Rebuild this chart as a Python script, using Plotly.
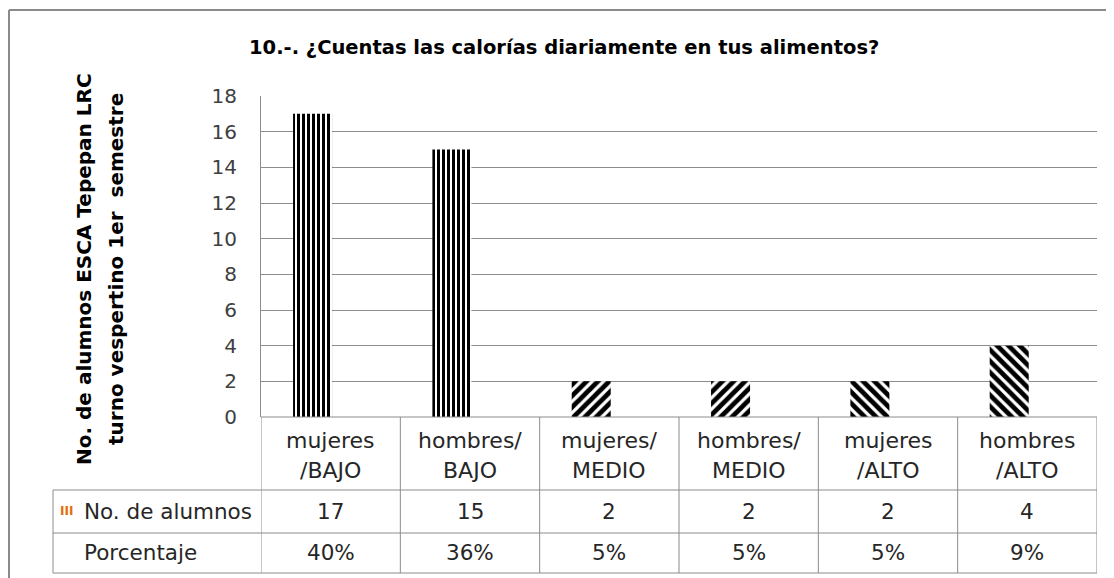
import plotly.graph_objects as go

# data
categories = ["mujeres<br>/BAJO", "hombres/<br>BAJO", "mujeres/<br>MEDIO",
              "hombres/<br>MEDIO", "mujeres<br>/ALTO", "hombres<br>/ALTO"]
alumnos = [17, 15, 2, 2, 2, 4]
porcentaje = ["40%", "36%", "5%", "5%", "5%", "9%"]
patterns = ["|", "|", "/", "/", "\\", "\\"]
pattern_sizes = [5, 5, 8, 8, 8, 8]
y_ticks = list(range(0, 19, 2))

FONT = "DejaVu Sans, sans-serif"
GRID = "#8c8c8c"
W, H = 1114, 578
OFF = 8  # page body margin


# pixel helpers (positions measured on the reference image)
def px(x):
    return (x - OFF) / W


def py(y):
    return 1 - (y - OFF) / H


x_idx = list(range(len(categories)))

fig = go.Figure(
    go.Bar(
        x=x_idx,
        y=alumnos,
        width=0.28,
        offset=-0.27,
        marker=dict(
            color="black",
            line=dict(width=0),
            pattern=dict(shape=patterns, fgcolor="black", bgcolor="white",
                         fgopacity=1, fillmode="replace",
                         size=pattern_sizes, solidity=0.6),
        ),
        name="No. de alumnos",
        showlegend=False,
    )
)

fig.update_layout(
    width=W,
    height=H,
    autosize=False,
    margin=dict(l=0, r=0, t=0, b=0, autoexpand=False),
    paper_bgcolor="white",
    plot_bgcolor="white",
    font=dict(family=FONT, size=20, color="#404040"),
    xaxis=dict(
        domain=[px(261), px(1097)],
        range=[-0.5, len(categories) - 0.5],
        showticklabels=False, showgrid=False, zeroline=False,
        showline=False, fixedrange=True, automargin=False,
    ),
    yaxis=dict(
        domain=[py(417), py(96)],
        range=[0, 18],
        tickvals=y_ticks,
        showgrid=True, gridcolor=GRID, gridwidth=1,
        zeroline=False,
        showline=True, linecolor=GRID, linewidth=1,
        ticks="", ticklabelstandoff=19,
        tickfont=dict(family=FONT, size=20, color="#404040"),
        fixedrange=True, automargin=False,
    ),
)

# title and rotated y-axis title (two lines)
fig.add_annotation(x=px(564), y=py(48), xref="paper", yref="paper",
                   xanchor="center", yanchor="middle",
                   text="<b>10.-. ¿Cuentas las calorías diariamente en tus alimentos?</b>",
                   showarrow=False, font=dict(family=FONT, size=19.5, color="black"))
y_title = ["<b>No. de alumnos ESCA Tepepan LRC</b>", "<b>turno vespertino 1er  semestre</b>"]
for xx, txt in zip((84, 116), y_title):
    fig.add_annotation(x=px(xx), y=py(269), xref="paper", yref="paper", textangle=-90,
                       xanchor="center", yanchor="middle", text=txt,
                       showarrow=False, font=dict(family=FONT, size=20, color="black"))

shapes = []
line = dict(color=GRID, width=1)
# outer chart border
shapes.append(dict(type="line", xref="paper", yref="paper",
                   x0=px(9), x1=1.02, y0=py(10), y1=py(10),
                   line=dict(color="#8a8a8a", width=2)))
shapes.append(dict(type="line", xref="paper", yref="paper",
                   x0=px(9), x1=px(9), y0=py(10), y1=-0.05,
                   line=dict(color="#8a8a8a", width=2)))
# data table horizontal lines
for yy in (490, 533, 573):
    shapes.append(dict(type="line", xref="paper", yref="paper",
                       x0=px(53), x1=px(1097), y0=py(yy), y1=py(yy), line=line))
shapes.append(dict(type="line", xref="paper", yref="paper",
                   x0=px(261), x1=px(1097), y0=py(417), y1=py(417), line=line))
# data table vertical lines at category boundaries
for i in range(len(categories) + 1):
    shapes.append(dict(type="line", xref="x", yref="paper",
                       x0=i - 0.5, x1=i - 0.5, y0=py(417), y1=py(573), line=line))
shapes.append(dict(type="line", xref="paper", yref="paper",
                   x0=px(53), x1=px(53), y0=py(490), y1=py(573), line=line))
fig.update_layout(shapes=shapes)

head_font = dict(family=FONT, size=22, color="#262626")
cell_font = dict(family=FONT, size=21.5, color="#262626")
for i, cat in enumerate(categories):
    top, bottom = cat.split("<br>")
    for yy, txt, fnt in ((440, top, head_font), (471, bottom, head_font),
                         (511, str(alumnos[i]), cell_font), (552, porcentaje[i], cell_font)):
        fig.add_annotation(x=i, y=py(yy), xref="x", yref="paper", text=txt,
                           xanchor="center", yanchor="middle",
                           showarrow=False, font=fnt)

fig.add_annotation(x=px(58), y=py(511), xref="paper", yref="paper", text="<b>III</b>",
                   showarrow=False, xanchor="left", yanchor="middle",
                   font=dict(family=FONT, size=12, color="#e46c0a"))
fig.add_annotation(x=px(82), y=py(511), xref="paper", yref="paper", text="No. de alumnos",
                   showarrow=False, xanchor="left", yanchor="middle", font=cell_font)
fig.add_annotation(x=px(82), y=py(552), xref="paper", yref="paper", text="Porcentaje",
                   showarrow=False, xanchor="left", yanchor="middle", font=cell_font)

fig.write_html("out.html")
